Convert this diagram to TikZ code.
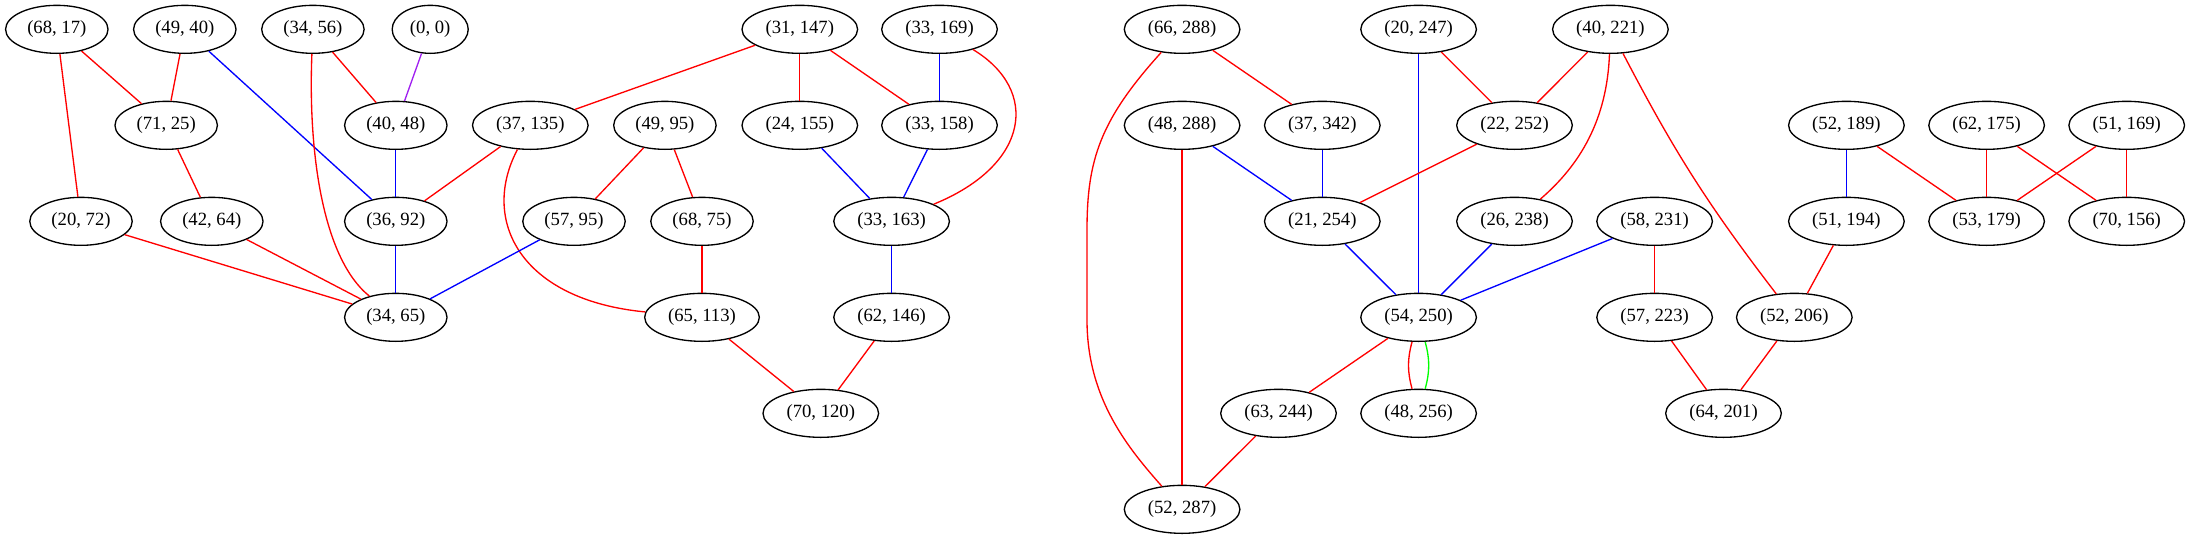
\documentclass[tikz,border=0pt]{standalone}
\usepackage{fontspec}
\setmainfont{Liberation Serif}
\usetikzlibrary{shapes.geometric}
\definecolor{gvpurple}{HTML}{A020F0}
\definecolor{gvgreen}{HTML}{00FF00}
\tikzset{
  gv/.style={draw, ellipse, line width=1bp, inner xsep=5bp, inner ysep=0pt,
    minimum height=36bp, font=\fontsize{14bp}{16bp}\selectfont},
  redge/.style={draw=red, line width=1bp},
  bedge/.style={draw=blue, line width=1bp},
  gedge/.style={draw=gvgreen, line width=1bp},
  pedge/.style={draw=gvpurple, line width=1bp}
}
\begin{document}
\begin{tikzpicture}[x=0.75bp,y=-0.75bp]
\useasboundingbox (0,0) rectangle (2190,539);
% row y: 29.33, 125.33, 221.33, 317.33, 413.33, 509.33
\node[gv] (n6817) at (56.8,29.33) {(68, 17)};
\node[gv] (n4940) at (184.8,29.33) {(49, 40)};
\node[gv] (n3456) at (312.9,29.33) {(34, 56)};
\node[gv] (n00) at (430.2,29.33) {(0, 0)};
\node[gv] (n7125) at (166.2,125.33) {(71, 25)};
\node[gv] (n4048) at (395.8,125.33) {(40, 48)};
\node[gv] (n37135) at (530.3,125.33) {(37, 135)};
\node[gv] (n4995) at (664.9,125.33) {(49, 95)};
\node[gv] (n2072) at (81,221.33) {(20, 72)};
\node[gv] (n4264) at (211.8,221.33) {(42, 64)};
\node[gv] (n3692) at (395.8,221.33) {(36, 92)};
\node[gv] (n5795) at (574,221.33) {(57, 95)};
\node[gv] (n6875) at (702,221.33) {(68, 75)};
\node[gv] (n3465) at (395.8,317.33) {(34, 65)};
\node[gv] (n65113) at (702,317.33) {(65, 113)};
\node[gv] (n31147) at (799.8,29.33) {(31, 147)};
\node[gv] (n33169) at (939.5,29.33) {(33, 169)};
\node[gv] (n24155) at (799.8,125.33) {(24, 155)};
\node[gv] (n33158) at (939.5,125.33) {(33, 158)};
\node[gv] (n33163) at (891.6,221.33) {(33, 163)};
\node[gv] (n62146) at (891.6,317.33) {(62, 146)};
\node[gv] (n70120) at (820.8,413.33) {(70, 120)};
\node[gv] (n66288) at (1182.1,29.33) {(66, 288)};
\node[gv] (n20247) at (1418.6,29.33) {(20, 247)};
\node[gv] (n48288) at (1182.1,125.33) {(48, 288)};
\node[gv] (n37342) at (1322.3,125.33) {(37, 342)};
\node[gv] (n21254) at (1322.3,221.33) {(21, 254)};
\node[gv] (n54250) at (1418.6,317.33) {(54, 250)};
\node[gv] (n63244) at (1278.5,413.33) {(63, 244)};
\node[gv] (n48256) at (1418.6,413.33) {(48, 256)};
\node[gv] (n52287) at (1182.1,509.33) {(52, 287)};
\node[gv] (n40221) at (1610.4,29.33) {(40, 221)};
\node[gv] (n22252) at (1514.5,125.33) {(22, 252)};
\node[gv] (n26238) at (1514.5,221.33) {(26, 238)};
\node[gv] (n58231) at (1654.6,221.33) {(58, 231)};
\node[gv] (n57223) at (1654.6,317.33) {(57, 223)};
\node[gv] (n52206) at (1794.3,317.33) {(52, 206)};
\node[gv] (n64201) at (1723.5,413.33) {(64, 201)};
\node[gv] (n52189) at (1846.4,125.33) {(52, 189)};
\node[gv] (n62175) at (1986.6,125.33) {(62, 175)};
\node[gv] (n51169) at (2126.7,125.33) {(51, 169)};
\node[gv] (n51194) at (1846.4,221.33) {(51, 194)};
\node[gv] (n53179) at (1986.6,221.33) {(53, 179)};
\node[gv] (n70156) at (2126.7,221.33) {(70, 156)};
% left component
\draw[redge] (n6817) -- (n7125);
\draw[redge] (n6817) -- (n2072);
\draw[redge] (n4940) -- (n7125);
\draw[bedge] (n4940) -- (n3692);
\draw[redge] (n3456) -- (n4048);
\draw[redge] (n3456) .. controls (308,150) and (322,258) .. (n3465);
\draw[pedge] (n00) -- (n4048);
\draw[redge] (n31147) -- (n37135);
\draw[redge] (n31147) -- (n24155);
\draw[redge] (n31147) -- (n33158);
\draw[bedge] (n33169) -- (n33158);
\draw[redge] (n33169) .. controls (1040,90) and (1030,165) .. (n33163);
\draw[redge] (n7125) -- (n4264);
\draw[bedge] (n4048) -- (n3692);
\draw[redge] (n37135) -- (n3692);
\draw[redge] (n37135) .. controls (480,220) and (520,300) .. (n65113);
\draw[redge] (n4995) -- (n5795);
\draw[redge] (n4995) -- (n6875);
\draw[bedge] (n24155) -- (n33163);
\draw[bedge] (n33158) -- (n33163);
\draw[redge] (n2072) -- (n3465);
\draw[redge] (n4264) -- (n3465);
\draw[bedge] (n3692) -- (n3465);
\draw[bedge] (n5795) -- (n3465);
\draw[redge] (n6875) -- (n65113);
\draw[bedge] (n33163) -- (n62146);
\draw[redge] (n65113) -- (n70120);
\draw[redge] (n62146) -- (n70120);
% middle component
\draw[redge] (n66288) -- (n37342);
\draw[redge] (n66288) .. controls (1100,120) and (1087,160) .. (1087,230) -- (1087,320) .. controls (1087,400) and (1130,450) .. (n52287);
\draw[redge] (n20247) -- (n22252);
\draw[bedge] (n20247) -- (n54250);
\draw[redge] (n40221) -- (n22252);
\draw[redge] (n40221) .. controls (1607,120) and (1580,165) .. (n26238);
\draw[redge] (n40221) to[bend right=5] (n52206);
\draw[bedge] (n48288) -- (n21254);
\draw[redge] (n48288) -- (n52287);
\draw[bedge] (n37342) -- (n21254);
\draw[redge] (n22252) -- (n21254);
\draw[bedge] (n21254) -- (n54250);
\draw[bedge] (n26238) -- (n54250);
\draw[bedge] (n58231) -- (n54250);
\draw[redge] (n58231) -- (n57223);
\draw[redge] (n54250) -- (n63244);
\draw[redge] (n54250) to[bend right=15] (n48256);
\draw[gedge] (n54250) to[bend left=15] (n48256);
\draw[redge] (n63244) -- (n52287);
\draw[redge] (n57223) -- (n64201);
\draw[redge] (n52206) -- (n64201);
\draw[redge] (n51194) -- (n52206);
\draw[bedge] (n52189) -- (n51194);
\draw[redge] (n52189) -- (n53179);
\draw[redge] (n62175) -- (n53179);
\draw[redge] (n62175) -- (n70156);
\draw[redge] (n51169) -- (n53179);
\draw[redge] (n51169) -- (n70156);
\end{tikzpicture}
\end{document}
